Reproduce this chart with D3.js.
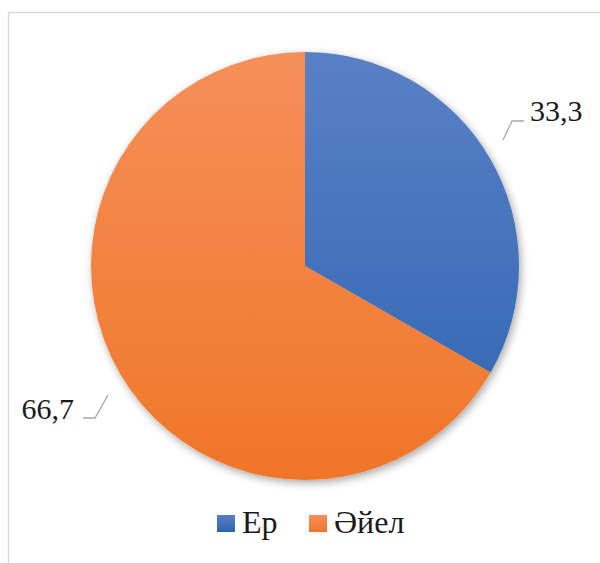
<!DOCTYPE html>
<html>
<head>
<meta charset="utf-8">
<script src="https://cdnjs.cloudflare.com/ajax/libs/d3/7.8.5/d3.min.js"></script>
<style>
  body { margin: 0; }
  #wrap { position: relative; width: 600px; height: 563px; overflow: hidden; }
  #chart { position: absolute; left: 0; top: 0; display: block; }
  .lbl {
    position: absolute;
    font-family: 'Liberation Serif';
    color: #1a1a1a;
    white-space: nowrap;
  }
</style>
</head>
<body>
<div id="wrap">
<svg id="chart" width="600" height="563"></svg>
</div>
<script>
// data
var categories = ["Ер", "Әйел"];
var values = [33.3, 66.7];
var valueLabels = ["33,3", "66,7"];

var width = 600, height = 563;
var cx = 305, cy = 266, radius = 214;

var svg = d3.select("#chart");
var wrap = d3.select("#wrap");

// office-like vertical gradients (light top -> darker bottom)
var gradStops = [
  ["#5a80c6", "#2d64b1"],
  ["#f68f5a", "#f07628"]
];

// chart frame
svg.append("rect")
  .attr("x", 8.5).attr("y", 12.5)
  .attr("width", 620).attr("height", 580)
  .style("fill", "none")
  .style("stroke", "#d9d9d9")
  .style("stroke-width", 1.5);

var defs = svg.append("defs");
gradStops.forEach(function (s, i) {
  var g = defs.append("linearGradient")
    .attr("id", "grad" + i)
    .attr("gradientUnits", "userSpaceOnUse")
    .attr("x1", 0).attr("y1", -radius)
    .attr("x2", 0).attr("y2", radius);
  g.append("stop").attr("offset", "0%").attr("stop-color", s[0]);
  g.append("stop").attr("offset", "100%").attr("stop-color", s[1]);

  var lg = defs.append("linearGradient").attr("id", "lg" + i)
    .attr("x1", 0).attr("y1", 0).attr("x2", 0).attr("y2", 1);
  lg.append("stop").attr("offset", "0%").attr("stop-color", s[0]);
  lg.append("stop").attr("offset", "100%").attr("stop-color", s[1]);
});

var shadow = defs.append("filter").attr("id", "shadow")
  .attr("x", "-10%").attr("y", "-10%").attr("width", "120%").attr("height", "120%");
shadow.append("feGaussianBlur").attr("in", "SourceAlpha").attr("stdDeviation", 4);
shadow.append("feOffset").attr("dx", 2).attr("dy", 3);
shadow.append("feComponentTransfer").append("feFuncA").attr("type", "linear").attr("slope", 0.35);
var merge = shadow.append("feMerge");
merge.append("feMergeNode");
merge.append("feMergeNode").attr("in", "SourceGraphic");

var pie = d3.pie().sort(null).value(function (d) { return d; });
var arc = d3.arc().innerRadius(0).outerRadius(radius);
var arcs = pie(values);

var pieLayer = svg.append("g")
  .attr("transform", "translate(" + cx + "," + cy + ")");

pieLayer.append("g").attr("filter", "url(#shadow)")
  .selectAll("path")
  .data(arcs)
  .enter().append("path")
  .attr("d", arc)
  .style("fill", function (d, i) { return "url(#grad" + i + ")"; });

// leader lines + data labels (labels as html text, top = baseline - ascent)
var labelPos = [
  { line: [[198, -126], [207, -145], [219, -145]], left: 530, top: 96 },
  { line: [[-197, 129], [-210, 152], [-222, 152]], right: 600 - 74, top: 394 }
];
arcs.forEach(function (d, i) {
  var p = labelPos[i];
  pieLayer.append("polyline")
    .attr("points", p.line.map(function (q) { return q.join(","); }).join(" "))
    .style("fill", "none")
    .style("stroke", "#a6a6a6")
    .style("stroke-width", 1.3);
  var t = wrap.append("div").attr("class", "lbl")
    .style("font-size", "30px")
    .style("line-height", "30px")
    .style("top", p.top + "px")
    .text(valueLabels[i]);
  if (p.left !== undefined) t.style("left", p.left + "px");
  else t.style("right", p.right + "px");
});

// legend
var legendX = [217, 309];
categories.forEach(function (c, i) {
  svg.append("rect")
    .attr("x", legendX[i]).attr("y", 515)
    .attr("width", 18).attr("height", 17)
    .style("fill", "url(#lg" + i + ")");
  wrap.append("div").attr("class", "lbl")
    .style("font-size", "32px")
    .style("line-height", "32px")
    .style("left", (legendX[i] + 25) + "px")
    .style("top", "506px")
    .text(c);
});
</script>
</body>
</html>
